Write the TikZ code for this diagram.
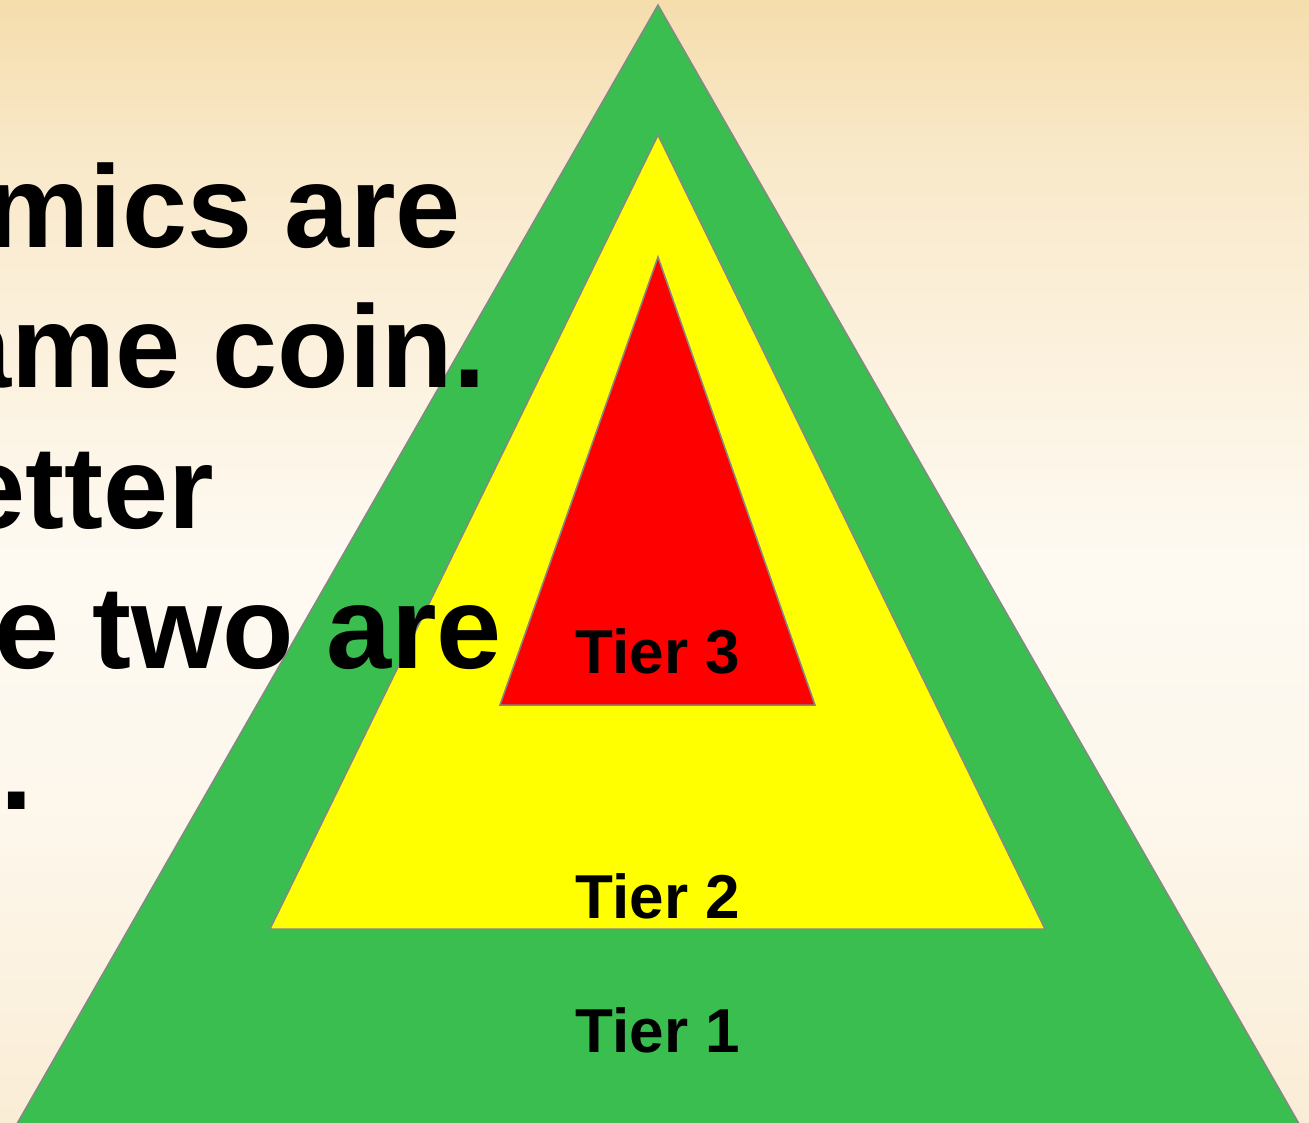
\documentclass[tikz,border=0pt]{standalone}
\usepackage{fontspec}
\setmainfont{Liberation Sans}
\definecolor{bgtop}{RGB}{245,221,172}
\definecolor{bgup}{RGB}{249,233,202}
\definecolor{bgupmid}{RGB}{252,243,226}
\definecolor{bgmid}{RGB}{254,250,242}
\definecolor{bglow}{RGB}{253,247,236}
\definecolor{bgbot}{RGB}{250,237,214}
\definecolor{tiergreen}{RGB}{58,190,79}
\definecolor{tieryellow}{RGB}{255,255,0}
\definecolor{tierred}{RGB}{255,0,0}
\definecolor{edgegray}{RGB}{135,135,135}
\pgfdeclareverticalshading{bgshade}{100bp}{color(0bp)=(bgbot); color(25bp)=(bgbot); color(39bp)=(bglow); color(50bp)=(bgmid); color(57bp)=(bgupmid); color(68bp)=(bgup); color(75bp)=(bgtop); color(100bp)=(bgtop)}
\begin{document}
\begin{tikzpicture}[x=1pt,y=1pt,
  tierband/.style={draw=edgegray, line width=1.5pt, line join=miter},
  tierlabel/.style={inner sep=0pt, anchor=base, font=\fontsize{62}{70}\selectfont\bfseries, text=black},
  bodyline/.style={inner sep=0pt, anchor=base east, font=\fontsize{117}{140}\selectfont\bfseries, text=black}]
\useasboundingbox (0,0) rectangle (1309,-1122);
\clip (0,0) rectangle (1309,-1122);
% background
\shade[shading=bgshade] (0,0) rectangle (1309,-1122);
% pyramid
\filldraw[tierband, fill=tiergreen] (658,-5) -- (1302.6,-1130) -- (13.4,-1130) -- cycle;
\filldraw[tierband, fill=tieryellow] (658,-135) -- (1045,-929) -- (270,-929) -- cycle;
\filldraw[tierband, fill=tierred] (658,-257) -- (815,-705) -- (500,-705) -- cycle;
% tier labels
\node[tierlabel] (t3) at (658,-673) {Tier 3};
\node[tierlabel] (t2) at (658,-918) {Tier 2};
\node[tierlabel] (t1) at (658,-1052) {Tier 1};
% body text (cut off at the left)
\node[bodyline] (l1) at (461,-247) {mics are};
\node[bodyline] (l2) at (486,-387) {ame coin.};
\node[bodyline] (l3) at (214,-528) {etter};
\node[bodyline] (l4) at (502,-668) {e two are};
\node[bodyline] (l5) at (33,-809) {.};
\end{tikzpicture}
\end{document}
